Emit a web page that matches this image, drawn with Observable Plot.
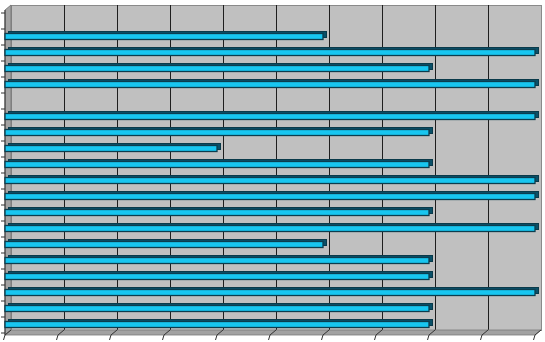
<!DOCTYPE html>
<html><head><meta charset="utf-8">
<script src="https://cdn.jsdelivr.net/npm/d3@7"></script>
<script src="https://cdn.jsdelivr.net/npm/@observablehq/plot@0.6"></script>
<style>html,body{margin:0;padding:0;background:#fff} svg{display:block}</style>
</head><body><div id="chart"></div>
<script>
// Category slots, top to bottom (the chart shows no category labels)
const categories = ["c1","c2","c3","c4","c5","c6","c7","c8","c9","c10","c11","c12","c13","c14","c15","c16","c17","c18","c19","c20"];
// Bar values, top to bottom
const values = [0, 6, 10, 8, 10, 0, 10, 8, 4, 8, 10, 10, 8, 10, 6, 8, 8, 10, 8, 8];
// Value axis ticks (unlabelled)
const xTicks = [0, 1, 2, 3, 4, 5, 6, 7, 8, 9, 10];
const gridTicks = [1, 2, 3, 4, 5, 6, 7, 8, 9];

const data = categories.map((c, i) => ({cat: c, value: values[i]}));

const DX = 6, DY = -5; // 3-D depth offset of back wall

function frame3d(index, scales, vals, dims) {
  const x = scales.x, y = scales.y;
  const x0 = x(0), x1 = x(10);
  const yTop = dims.marginTop, yBot = dims.height - dims.marginBottom;
  const g = d3.create("svg:g");
  // left side wall
  g.append("path")
    .attr("d", `M${x0},${yTop}L${x0 + DX},${yTop + DY}L${x0 + DX},${yBot + DY}L${x0},${yBot}Z`)
    .attr("fill", "#a4a4a4").attr("stroke", "#6e6e6e").attr("stroke-width", 0.8);
  // floor
  g.append("path")
    .attr("d", `M${x0},${yBot}L${x0 + DX},${yBot + DY}L${x1 + DX},${yBot + DY}L${x1},${yBot}Z`)
    .attr("fill", "#a2a2a2").attr("stroke", "#7a7a7a").attr("stroke-width", 0.8);
  // floor gridlines + axis ticks
  for (const t of xTicks) {
    const xt = x(t);
    g.append("line").attr("x1", xt).attr("y1", yBot).attr("x2", xt + DX).attr("y2", yBot + DY)
      .attr("stroke", "#333").attr("stroke-width", 1);
    g.append("line").attr("x1", xt).attr("y1", yBot).attr("x2", xt - 1.5).attr("y2", yBot + 5)
      .attr("stroke", "#333").attr("stroke-width", 1);
  }
  // category axis line and ticks at band boundaries
  g.append("line").attr("x1", x0).attr("y1", yTop).attr("x2", x0).attr("y2", yBot)
    .attr("stroke", "#333").attr("stroke-width", 1);
  const starts = categories.map(c => y(c));
  const step = starts.length > 1 ? starts[1] - starts[0] : (yBot - yTop);
  const bounds = starts.concat([starts[starts.length - 1] + step]);
  for (const b of bounds) {
    g.append("line").attr("x1", x0 - 4).attr("y1", b).attr("x2", x0).attr("y2", b)
      .attr("stroke", "#333").attr("stroke-width", 1);
  }
  return g.node();
}

const chart = Plot.plot({
  width: 545,
  height: 342,
  marginLeft: 5,
  marginRight: 10,
  marginTop: 10,
  marginBottom: 7,
  style: {background: "#fff"},
  x: {domain: [0, 10], axis: null},
  y: {domain: categories, padding: 0, axis: null},
  marks: [
    Plot.frame({fill: "#c0c0c0", stroke: "#8a8a8a", dx: DX, dy: DY}),
    Plot.ruleX(gridTicks, {stroke: "#1e1e1e", strokeWidth: 1, dx: DX, dy: DY}),
    frame3d,
    Plot.barX(data, {filter: d => d.value > 0, y: "cat", x: "value", fill: "#0a5068", stroke: "#0a3a4a", strokeWidth: 1, dx: 3.5, dy: -2, insetTop: 4.5, insetBottom: 5.5}),
    Plot.barX(data, {filter: d => d.value > 0, y: "cat", x: "value", fill: "#18c6f0", stroke: "#0c3d4e", strokeWidth: 1.3, insetTop: 4.5, insetBottom: 5.5})
  ]
});
document.getElementById("chart").appendChild(chart);
</script>
</body></html>
